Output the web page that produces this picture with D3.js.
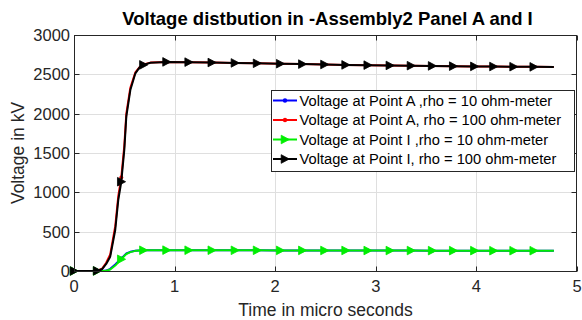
<!DOCTYPE html>
<html><head><meta charset="utf-8">
<script src="https://cdn.jsdelivr.net/npm/d3@7"></script>
<style>
html,body{margin:0;padding:0;background:#fff;}
svg{display:block;font-family:"Liberation Sans",Arial,Helvetica,sans-serif;}
</style></head>
<body>
<svg id="chart" width="582" height="320"></svg>
<script>
// ---- data ----
const titleText = "Voltage distbution in -Assembly2 Panel A and I";
const xLabel = "Time in micro seconds";
const yLabel = "Voltage in kV";
const xTicks = [0, 1, 2, 3, 4, 5];
const yTicks = [0, 500, 1000, 1500, 2000, 2500, 3000];
const time = [0, 0.1, 0.2, 0.23, 0.28, 0.32, 0.36, 0.41, 0.44, 0.47, 0.50, 0.52, 0.56, 0.61, 0.65, 0.69, 0.76, 0.92, 1.14, 1.37, 1.60, 1.82, 2.05, 2.27, 2.49, 2.70, 2.92, 3.14, 3.35, 3.56, 3.77, 3.98, 4.17, 4.37, 4.57, 4.77];
const markerTimes = [0, 0.23, 0.47, 0.69, 0.92, 1.14, 1.37, 1.60, 1.82, 2.05, 2.27, 2.49, 2.70, 2.92, 3.14, 3.35, 3.56, 3.77, 3.98, 4.17, 4.37, 4.57];
const voltA10  = [0,0,0,0,0,5,28,82,120,158,198,222,244,257,262,264,265,265,264,264,263,263,262,262,261,261,260,260,260,259,259,259,258,258,258,258];
const voltA100 = [0,0,0,3,30,105,210,570,950,1190,1590,2000,2330,2525,2590,2625,2649,2658,2655,2650,2645,2640,2635,2630,2625,2620,2617,2613,2610,2607,2604,2601,2599,2597,2595,2593];
const voltI10  = [0,0,0,0,0,3,20,70,110,149,190,216,240,256,262,264,265,265,264,264,263,263,262,262,261,261,260,260,260,259,259,259,258,258,258,258];
const voltI100 = [0,0,0,2,25,90,182,521,902,1135,1538,1962,2300,2513,2585,2620,2648,2658,2655,2650,2645,2640,2635,2630,2625,2620,2617,2613,2610,2607,2604,2601,2599,2597,2595,2593];
const seriesNames = [
  "Voltage at Point A ,rho = 10 ohm-meter",
  "Voltage at Point A, rho = 100 ohm-meter",
  "Voltage at Point I ,rho = 10 ohm-meter",
  "Voltage at Point I, rho = 100 ohm-meter"
];
const seriesColors = ["#0000ff", "#ff0000", "#00ee00", "#000000"];
const seriesMarkers = ["dot", "dot", "tri", "tri"];

const seriesValues = [voltA10, voltA100, voltI10, voltI100];

// ---- layout ----
const L = 74, R = 577, T = 35, B = 271;
const svg = d3.select("#chart");
const x = d3.scaleLinear().domain([0, 5]).range([L, R]);
const y = d3.scaleLinear().domain([0, 3000]).range([B, T]);
const axisCol = "#262626";

// grid
const grid = svg.append("g");
grid.selectAll(".gx").data(xTicks.slice(1, -1)).join("line")
  .attr("x1", d => Math.round(x(d)) + 0.5).attr("x2", d => Math.round(x(d)) + 0.5)
  .attr("y1", T).attr("y2", B).attr("stroke", "#dfdfdf").attr("stroke-width", 1);
grid.selectAll(".gy").data(yTicks.slice(1, -1)).join("line")
  .attr("y1", d => Math.round(y(d)) + 0.5).attr("y2", d => Math.round(y(d)) + 0.5)
  .attr("x1", L).attr("x2", R).attr("stroke", "#dfdfdf").attr("stroke-width", 1);

// series
const lineGen = d3.line().x((d, i) => x(time[i])).y(d => y(d));
const triPath = "M-3.8,-4.3L4.3,0L-3.8,4.3Z";
seriesValues.forEach((vals, k) => {
  svg.append("path").datum(vals)
    .attr("d", lineGen).attr("fill", "none")
    .attr("stroke", seriesColors[k]).attr("stroke-width", 2)
    .attr("stroke-linejoin", "round");
  const pts = vals.map((v, i) => ({t: time[i], v})).filter(p => markerTimes.includes(p.t));
  if (seriesMarkers[k] === "tri") {
    svg.append("g").selectAll("path").data(pts).join("path")
      .attr("d", triPath)
      .attr("transform", p => `translate(${x(p.t)},${y(p.v)})`)
      .attr("fill", seriesColors[k]).attr("stroke", seriesColors[k]).attr("stroke-width", 0.8);
  } else {
    svg.append("g").selectAll("circle").data(pts).join("circle")
      .attr("cx", p => x(p.t)).attr("cy", p => y(p.v)).attr("r", 2)
      .attr("fill", seriesColors[k]);
  }
});

// axes box
const axG = svg.append("g").attr("font-size", 16.5).attr("fill", axisCol);
axG.append("rect").attr("x", L + 0.5).attr("y", T + 0.5).attr("width", R - L - 1).attr("height", B - T)
  .attr("fill", "none").attr("stroke", axisCol).attr("stroke-width", 1);
const tl = 5;
xTicks.forEach(d => {
  const px = Math.round(x(d)) + 0.5;
  axG.append("line").attr("x1", px).attr("x2", px).attr("y1", B + 0.5).attr("y2", B + 0.5 - tl).attr("stroke", axisCol);
  axG.append("line").attr("x1", px).attr("x2", px).attr("y1", T + 0.5).attr("y2", T + 0.5 + tl).attr("stroke", axisCol);
  axG.append("text").attr("x", x(d)).attr("y", 292).attr("text-anchor", "middle").text(d);
});
yTicks.forEach(d => {
  const py = Math.round(y(d)) + 0.5;
  axG.append("line").attr("x1", L + 0.5).attr("x2", L + 0.5 + tl).attr("y1", py).attr("y2", py).attr("stroke", axisCol);
  axG.append("line").attr("x1", R - 0.5).attr("x2", R - 0.5 - tl).attr("y1", py).attr("y2", py).attr("stroke", axisCol);
  axG.append("text").attr("x", 70).attr("y", y(d) + 6).attr("text-anchor", "end").text(d);
});

// labels
svg.append("text").attr("x", (L + R) / 2).attr("y", 316).attr("text-anchor", "middle")
  .attr("font-size", 17.5).attr("fill", axisCol).text(xLabel);
svg.append("text").attr("transform", `translate(24,${(T + B) / 2}) rotate(-90)`)
  .attr("text-anchor", "middle").attr("font-size", 17.5).attr("fill", axisCol).text(yLabel);
svg.append("text").attr("x", (L + R) / 2 + 2).attr("y", 25).attr("text-anchor", "middle")
  .attr("font-size", 18.5).attr("font-weight", "bold").attr("fill", "#000").text(titleText);

// legend
const lg = svg.append("g");
const lx = 271.5, ly = 90.5, lw = 303, lh = 81;
lg.append("rect").attr("x", lx).attr("y", ly).attr("width", lw).attr("height", lh)
  .attr("fill", "#fff").attr("stroke", axisCol).attr("stroke-width", 1);
seriesNames.forEach((name, k) => {
  const cy = 100.5 + k * 19.5;
  lg.append("line").attr("x1", 273).attr("x2", 297).attr("y1", cy).attr("y2", cy)
    .attr("stroke", seriesColors[k]).attr("stroke-width", 2);
  if (seriesMarkers[k] === "tri") {
    lg.append("path").attr("d", triPath).attr("transform", `translate(285,${cy})`)
      .attr("fill", seriesColors[k]).attr("stroke", seriesColors[k]).attr("stroke-width", 0.8);
  } else {
    lg.append("circle").attr("cx", 285).attr("cy", cy).attr("r", 2.2).attr("fill", seriesColors[k]);
  }
  lg.append("text").attr("x", 299.5).attr("y", cy + 5).attr("font-size", 14.7)
    .attr("fill", "#000").text(name);
});
</script>
</body></html>
